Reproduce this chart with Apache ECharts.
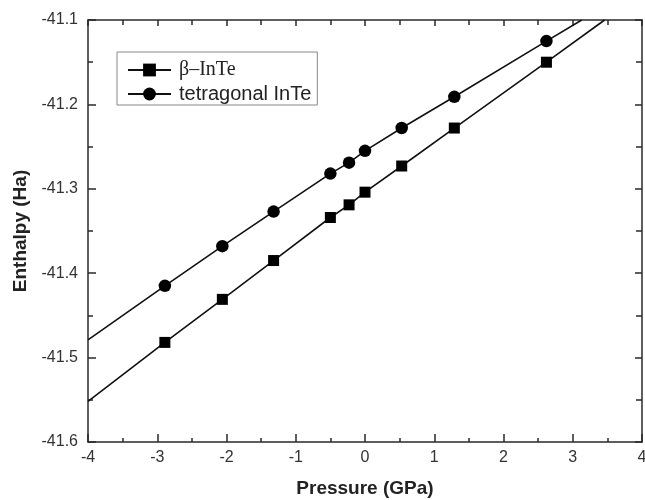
<!DOCTYPE html>
<html lang="en">
<head>
  <meta charset="UTF-8" />
  <title>Enthalpy vs Pressure - InTe</title>
  <script src="https://cdn.jsdelivr.net/npm/echarts@6/dist/echarts.min.js"></script>
  <style>
    body { margin: 0; background: #fff; }
    #chart { width: 645px; height: 500px; }
  </style>
</head>
<body>
  <div id="chart"></div>
  <script>
    // pressure (GPa) of the computed points
    const pressure = [-2.89, -2.06, -1.32, -0.5, -0.23, 0.0, 0.53, 1.29, 2.62];
    const betaH = [-41.482, -41.431, -41.385, -41.334, -41.319, -41.304, -41.273, -41.228, -41.150];
    const tetraH = [-41.415, -41.368, -41.327, -41.282, -41.269, -41.255, -41.228, -41.191, -41.125];

    // extrapolated ends of each curve: [pressure, enthalpy]
    const betaStart = [-4, -41.552];
    const betaEnd = [3.46, -41.1];
    const tetraStart = [-4, -41.479];
    const tetraEnd = [3.13, -41.1];

    const xTicks = [-4, -3, -2, -1, 0, 1, 2, 3, 4];

    const ink = '#111';
    const axisInk = '#2a2a2a';
    const font = '"Liberation Sans", Arial, sans-serif';

    // points with markers, plus unmarked end points of the extrapolation
    function curve(xs, ys, start, end) {
      const pts = xs.map((x, i) => [x, ys[i]]);
      return [{ value: start, symbol: 'none' }]
        .concat(pts)
        .concat([{ value: end, symbol: 'none' }]);
    }

    const chart = echarts.init(document.getElementById('chart'));

    function axisStyle(tickLen, minorLen) {
      return {
        axisLine: { show: true, onZero: false, lineStyle: { color: axisInk, width: 1.5 } },
        axisTick: { show: true, inside: true, length: tickLen, lineStyle: { color: axisInk, width: 1.5 } },
        minorTick: { show: true, splitNumber: 2, length: minorLen, lineStyle: { color: axisInk, width: 1.5 } },
        splitLine: { show: false }
      };
    }

    chart.setOption({
      animation: false,
      backgroundColor: '#fff',
      grid: { left: 88, top: 20, right: 3, bottom: 58, outerBoundsMode: 'none' },
      legend: {
        orient: 'vertical',
        left: 117,
        top: 52,
        padding: [8, 6, 1, 10],
        itemGap: 4,
        itemWidth: 43,
        itemHeight: 16,
        borderColor: '#888',
        borderWidth: 1,
        data: ['β–InTe', 'tetragonal InTe'],
        formatter: name => name.startsWith('β') ? '{s|' + name + '}' : name,
        textStyle: {
          fontFamily: font, fontSize: 20, color: '#222', padding: [0, 0, 0, 3],
          rich: {
            s: { fontFamily: '"Liberation Serif", "Times New Roman", serif', fontSize: 20, color: '#222' }
          }
        }
      },
      xAxis: [
        Object.assign({
          type: 'value', min: -4, max: 4, interval: 1,
          name: 'Pressure (GPa)', nameLocation: 'middle', nameGap: 37,
          nameTextStyle: { fontFamily: font, fontSize: 19, fontWeight: 'bold', color: '#222' },
          axisLabel: {
            fontFamily: font, fontSize: 16, color: '#333', margin: 8,
            formatter: v => xTicks.includes(v) ? String(v) : ''
          }
        }, axisStyle(8, 4)),
        Object.assign({
          type: 'value', min: -4, max: 4, interval: 1, position: 'top',
          axisLabel: { show: false }
        }, axisStyle(6, 5))
      ],
      yAxis: [
        Object.assign({
          type: 'value', min: -41.6, max: -41.1, interval: 0.1,
          name: 'Enthalpy (Ha)', nameLocation: 'middle', nameGap: 54,
          nameTextStyle: { fontFamily: font, fontSize: 19, fontWeight: 'bold', color: '#222' },
          axisLabel: {
            fontFamily: font, fontSize: 16, color: '#333', margin: 10,
            formatter: v => v.toFixed(1)
          }
        }, axisStyle(8, 5)),
        Object.assign({
          type: 'value', min: -41.6, max: -41.1, interval: 0.1, position: 'right',
          axisLabel: { show: false }
        }, axisStyle(7, 6))
      ],
      series: [
        {
          name: 'β–InTe', type: 'line',
          data: curve(pressure, betaH, betaStart, betaEnd),
          symbol: 'rect', symbolSize: 11, clip: true,
          itemStyle: { color: '#000' },
          lineStyle: { color: ink, width: 1.6 }
        },
        {
          name: 'tetragonal InTe', type: 'line',
          data: curve(pressure, tetraH, tetraStart, tetraEnd),
          symbol: 'circle', symbolSize: 12.5, clip: true,
          itemStyle: { color: '#000' },
          lineStyle: { color: ink, width: 1.6 }
        }
      ]
    });

    window.addEventListener('resize', () => chart.resize());
  </script>
</body>
</html>
